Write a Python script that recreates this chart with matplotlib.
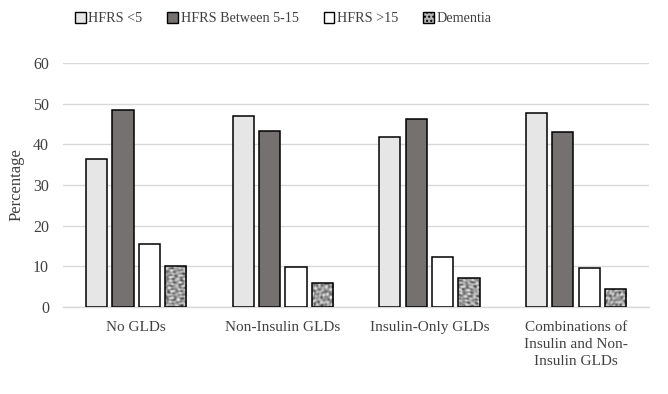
import numpy as np
import matplotlib
matplotlib.use('Agg')
import matplotlib.pyplot as plt
from matplotlib.patches import Patch

categories = ['No GLDs', 'Non-Insulin GLDs', 'Insulin-Only GLDs',
              'Combinations of\nInsulin and Non-\nInsulin GLDs']
series_names = ['HFRS <5', 'HFRS Between 5-15', 'HFRS >15', 'Dementia']
hfrs_low = [36.3, 46.9, 41.7, 47.6]
hfrs_mid = [48.5, 43.3, 46.2, 43.0]
hfrs_high = [15.5, 9.9, 12.3, 9.5]
dementia = [10.0, 5.8, 7.0, 4.3]
yticks = [0, 10, 20, 30, 40, 50, 60]

plt.rcParams['font.family'] = ['Liberation Serif', 'DejaVu Serif']


def mottled(h_px, w_px, seed):
    # quasi random grey blobs built from a few crossed waves
    yy, xx = np.mgrid[0:h_px, 0:w_px].astype(float)
    t = np.zeros_like(xx)
    for k in range(9):
        ang = 0.7 * k + seed
        f = 0.9 + 0.23 * ((k * 7) % 5)
        t += np.sin(f * (np.cos(ang) * xx + np.sin(ang) * yy) + 1.3 * k + seed)
    return t


fig = plt.figure(figsize=(6.68, 3.94), dpi=100)
ax = fig.add_axes([0.094, 0.221, 0.878, 0.619])

x = np.arange(len(categories))
w = 0.145
offs = [-0.27, -0.09, 0.09, 0.27]
colors = ['#e7e6e6', '#767171', '#ffffff']

for i, vals in enumerate([hfrs_low, hfrs_mid, hfrs_high]):
    ax.bar(x + offs[i], vals, w, color=colors[i], edgecolor='black', linewidth=1.1, zorder=3)

bars = ax.bar(x + offs[3], dementia, w, color='none', edgecolor='black', linewidth=1.1, zorder=4)
for j, b in enumerate(bars):
    tex = mottled(int(b.get_height() * 4.07) + 1, 21, j * 1.7)
    im = ax.imshow(tex, cmap='Greys', vmin=-9, vmax=10, aspect='auto', zorder=3,
                   extent=[b.get_x(), b.get_x() + b.get_width(), 0, b.get_height()],
                   interpolation='bilinear')
    im.set_clip_path(b)

ax.set_xlim(-0.5, 3.5)
ax.set_ylim(0, 60)
ax.set_yticks(yticks)
ax.set_xticks(x)
ax.set_xticklabels(categories, fontsize=11, color='#404040', linespacing=1.4)
ax.tick_params(axis='y', labelsize=11.5, labelcolor='#404040', length=0, pad=10)
ax.tick_params(axis='x', length=0, pad=10)
ax.grid(axis='y', color='#d9d9d9', linewidth=1, zorder=0)
for s in ['top', 'right', 'left']:
    ax.spines[s].set_visible(False)
ax.spines['bottom'].set_color('#d9d9d9')
ax.spines['bottom'].set_linewidth(1)
ax.set_ylabel('Percentage', fontsize=12, color='#404040', labelpad=6)

handles = [Patch(facecolor=colors[0], edgecolor='black'),
           Patch(facecolor=colors[1], edgecolor='black'),
           Patch(facecolor=colors[2], edgecolor='black'),
           Patch(facecolor='#b5b5b5', edgecolor='black', hatch='....')]
fig.legend(handles, series_names, loc='center', bbox_to_anchor=(0.424, 0.952), ncol=4,
           frameon=False, fontsize=10.2, handlelength=0.75, handleheight=0.75,
           handletextpad=0.2, columnspacing=1.75, labelcolor='#404040')

fig.savefig('out.png', dpi=100)
